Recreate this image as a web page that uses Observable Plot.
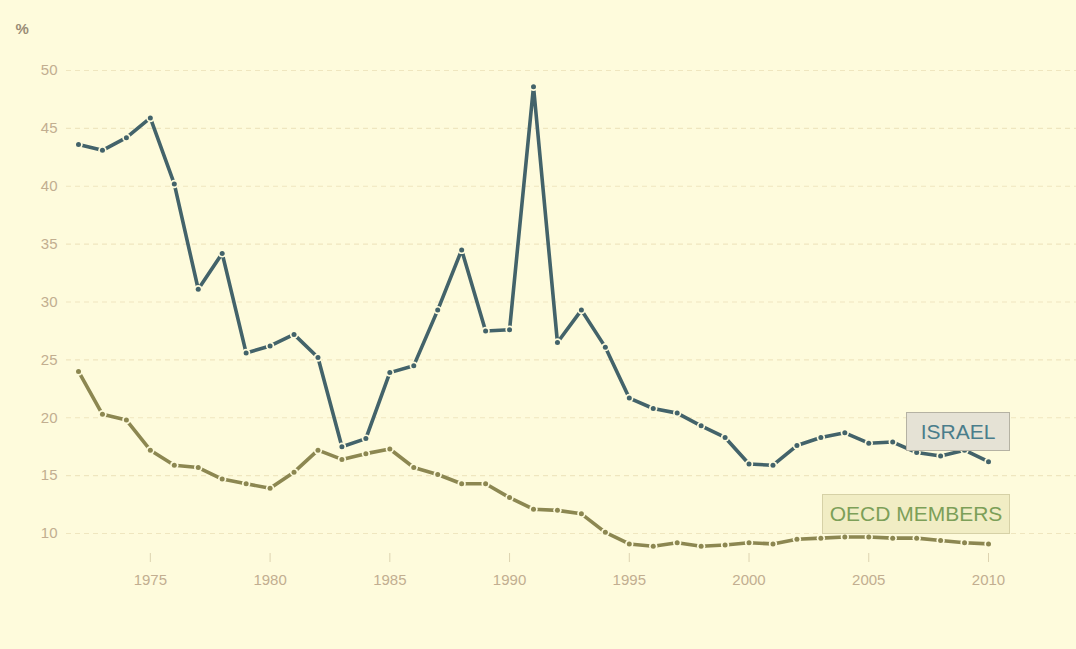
<!DOCTYPE html>
<html><head><meta charset="utf-8">
<script src="https://cdn.jsdelivr.net/npm/d3@7"></script>
<script src="https://cdn.jsdelivr.net/npm/@observablehq/plot@0.6"></script>
<style>
html,body{margin:0;padding:0;background:#fefbdc;}
#wrap{position:relative;width:1076px;height:649px;overflow:hidden;}
.lab{position:absolute;box-sizing:border-box;font-family:"Liberation Sans",Arial,sans-serif;font-size:21px;display:flex;align-items:center;justify-content:center;}
</style></head>
<body><div id="wrap"></div>
<script>
const years = d3.range(1972, 2011);
const israel = [43.6,43.1,44.2,45.9,40.2,31.1,34.2,25.6,26.2,27.2,25.2,17.5,18.2,23.9,24.5,29.3,34.5,27.5,27.6,48.6,26.5,29.3,26.1,21.7,20.8,20.4,19.3,18.3,16.0,15.9,17.6,18.3,18.7,17.8,17.9,17.0,16.7,17.2,16.2];
const oecd = [24.0,20.3,19.8,17.2,15.9,15.7,14.7,14.3,13.9,15.3,17.2,16.4,16.9,17.3,15.7,15.1,14.3,14.3,13.1,12.1,12.0,11.7,10.1,9.1,8.9,9.2,8.9,9.0,9.2,9.1,9.5,9.6,9.7,9.7,9.6,9.6,9.4,9.2,9.1];
const yTicks = [10,15,20,25,30,35,40,45,50];
const xTicks = [1975,1980,1985,1990,1995,2000,2005,2010];
const seriesNames = ["ISRAEL","OECD MEMBERS"];
const seriesColors = ["#43636a","#8c8751"];
const bg = "#fefbdc";

const rows = [];
years.forEach((y,i)=>{
  rows.push({year:y, value:israel[i], series:seriesNames[0]});
  rows.push({year:y, value:oecd[i], series:seriesNames[1]});
});

const chart = Plot.plot({
  width:1076, height:649,
  marginLeft:78, marginRight:88, marginTop:70, marginBottom:116,
  style:{background:bg, fontFamily:"'Liberation Sans',Arial,sans-serif", fontSize:"15px", color:"#c2ae90", overflow:"visible"},
  x:{domain:[1972,2010]},
  y:{domain:[10,50]},
  color:{domain:seriesNames, range:seriesColors},
  marks:[
    Plot.ruleY(yTicks, {stroke:"#efe6bf", strokeWidth:1.2, strokeDasharray:"5,4", insetLeft:-12, insetRight:-88}),
    Plot.axisY({ticks:yTicks, tickSize:0, tickPadding:21, label:null, fill:"#c2ae90"}),
    Plot.axisX({ticks:xTicks, tickFormat:d=>String(d), tickSize:9, dy:20, tickPadding:12, label:null, stroke:"#ddd3b0", fill:"#c2ae90"}),
    Plot.text(["%"], {frameAnchor:"top-left", dx:-63, dy:-47, text:d=>d, fill:"#9a8d77", fontSize:15, fontWeight:"bold"}),
    Plot.line(rows, {x:"year", y:"value", z:"series", stroke:"series", strokeWidth:3.6}),
    Plot.dot(rows, {x:"year", y:"value", fill:bg, r:4.2, stroke:null}),
    Plot.dot(rows, {x:"year", y:"value", fill:"series", r:2.5, stroke:null})
  ]
});
const wrap = document.getElementById("wrap");
wrap.appendChild(chart);

const labs = [
  {text:seriesNames[0], left:906, top:412, w:104, h:39, bgc:"#e5e2d5", bd:"#b5b2a3", col:"#4a7d8b"},
  {text:seriesNames[1], left:822, top:494, w:188, h:40, bgc:"#f1edc4", bd:"#d6d1a6", col:"#7c9f58"}
];
labs.forEach(l=>{
  const d = document.createElement("div");
  d.className="lab";
  d.textContent=l.text;
  Object.assign(d.style,{left:l.left+"px",top:l.top+"px",width:l.w+"px",height:l.h+"px",background:l.bgc,border:"1px solid "+l.bd,color:l.col});
  wrap.appendChild(d);
});
</script></body></html>
